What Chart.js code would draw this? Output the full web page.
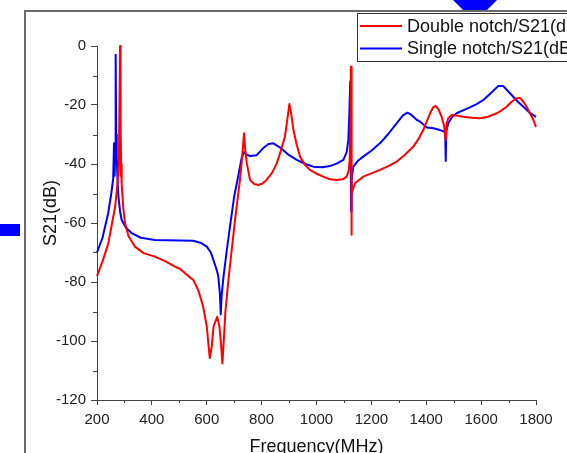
<!DOCTYPE html>
<html>
<head>
<meta charset="utf-8">
<script src="https://cdn.jsdelivr.net/npm/chart.js@4.4.0/dist/chart.umd.min.js"></script>
<style>
  html, body { margin: 0; padding: 0; background: #fff; overflow: hidden; }
  #wrap { position: relative; width: 567px; height: 453px; }
</style>
</head>
<body>
<div id="wrap"><canvas id="grafico" width="567" height="453"></canvas></div>
<script>
// Double notch filter, S21 (dB) vs frequency (MHz)
const doubleFreq = [200, 220, 241, 255, 266, 275, 280, 283, 284, 285, 286, 287, 288, 290, 296, 302, 315, 338, 370, 411, 450, 484, 502, 533, 551, 570, 587, 600, 611, 618, 625, 638, 646, 652, 657, 662, 668, 679, 690, 703, 709, 721, 727, 733, 736, 740, 746, 758, 773, 788, 803, 818, 838, 855, 870, 885, 895, 901, 908, 916, 928, 940, 958, 976, 1000, 1025, 1049, 1073, 1095, 1110, 1118, 1121, 1124, 1125, 1126, 1127, 1129, 1140, 1170, 1200, 1231, 1260, 1292, 1320, 1353, 1372, 1389, 1400, 1414, 1425, 1434, 1445, 1456, 1465, 1471, 1475, 1480, 1493, 1510, 1535, 1565, 1596, 1625, 1657, 1675, 1693, 1710, 1730, 1742, 1754, 1766, 1778, 1790, 1800];
const doubleS21 = [-78, -73, -67, -60, -54.5, -46.5, -38, -10, 0, -20, -44, -27, -40, -47, -55, -60, -64.5, -68, -70.2, -71.4, -73, -74.8, -75.5, -78, -79.3, -83, -88.4, -95, -105.8, -102, -95, -91.8, -95, -101, -107.6, -100, -90, -79.3, -70, -59, -54.5, -45.4, -39.8, -33, -29.6, -35, -39.8, -45.4, -46.8, -47.1, -46.6, -45.4, -43, -39.8, -35.5, -30.7, -24, -19.7, -23, -28.5, -33.5, -37.5, -40.3, -42, -43.3, -44.3, -45.2, -45.4, -45.2, -44.3, -42, -38.6, -25, -7, -7, -64, -50, -46.5, -44.3, -43.2, -42, -40.8, -39.2, -37, -34.1, -31.5, -28.5, -26, -22.8, -20.8, -20.3, -21.5, -24, -27, -31.9, -26, -24.5, -23.4, -23.6, -24, -24.3, -24.5, -24, -22.8, -21.8, -20.6, -19, -17.7, -17.6, -18.9, -20.6, -22.8, -25, -27.4];

// Single notch filter
const singleFreq = [200, 220, 241, 252, 259, 262, 264, 266, 268, 270, 272, 275, 278, 284, 290, 305, 326, 360, 411, 550, 580, 600, 615, 624, 635, 642, 648, 651, 654, 660, 672, 685, 700, 715, 727, 735, 745, 758, 782, 806, 825, 843, 860, 879, 900, 928, 960, 988, 1020, 1049, 1075, 1098, 1110, 1116, 1120, 1123, 1125, 1126, 1128, 1134, 1150, 1170, 1200, 1231, 1260, 1292, 1315, 1331, 1345, 1365, 1377, 1402, 1426, 1450, 1465, 1469, 1471, 1473, 1480, 1495, 1511, 1530, 1559, 1585, 1608, 1635, 1662, 1681, 1700, 1717, 1735, 1754, 1775, 1800];
const singleS21 = [-70, -65, -56.6, -50, -45, -33, -44, -38, -3, -30, -37.5, -46, -51, -56, -59, -61.5, -63.4, -65, -65.8, -66, -66.8, -68, -70, -72.5, -75.5, -78, -84, -91, -85, -79, -70, -61, -51, -44, -38, -36, -36.8, -37.3, -37, -34.6, -33.2, -33, -34, -35.3, -37, -38.6, -40, -40.9, -41.1, -40.7, -39.8, -38.6, -36, -32, -22, -12, -12, -56, -45, -41, -39, -37.5, -35.5, -33, -30, -26.2, -23.5, -22.6, -23.3, -25, -25.6, -27.6, -27.9, -28.5, -29, -29.5, -39, -29, -26.2, -24, -22.8, -22, -20.8, -19.6, -18.3, -16, -13.6, -13.6, -15.5, -17.2, -19, -20.6, -22.5, -24];

const seriesLabels = ['Double notch/S21(dB)', 'Single notch/S21(dB)'];
const seriesColors = ['#ff0000', '#0000ff'];

const xMin = 200, xMax = 1800, xStep = 200, xMinorStep = 100;
const yMin = -120, yMax = 0, yStep = 20, yMinorStep = 10;

const fuente = '"Liberation Sans", Arial, sans-serif';

const toPoints = (xs, ys) => xs.map((x, i) => ({ x: x, y: ys[i] }));

// Fondo: marco de la página, asas azules, título Y y leyenda
const decoracion = {
    id: 'decoracion',
    beforeDraw(chart) {
        const ctx = chart.ctx;
        ctx.save();
        ctx.fillStyle = '#fff';
        ctx.fillRect(0, 0, chart.width, chart.height);
        ctx.strokeStyle = '#6a6a6a';
        ctx.lineWidth = 2;
        ctx.beginPath();
        ctx.moveTo(25, chart.height);
        ctx.lineTo(25, 11);
        ctx.lineTo(chart.width, 11);
        ctx.stroke();
        ctx.fillStyle = '#0000ff';
        ctx.fillRect(0, 224, 20, 12);
        ctx.beginPath();
        ctx.moveTo(453, 0);
        ctx.lineTo(497, 0);
        ctx.lineTo(487, 10);
        ctx.lineTo(463, 10);
        ctx.closePath();
        ctx.fill();
        ctx.restore();
    },
    afterDraw(chart) {
        const ctx = chart.ctx;
        const xs = chart.scales.x, ys = chart.scales.y;
        ctx.save();
        // ticks menores
        ctx.strokeStyle = '#444';
        ctx.lineWidth = 1;
        ctx.beginPath();
        for (let v = xMin + xMinorStep; v < xMax; v += xStep) {
            const px = Math.round(xs.getPixelForValue(v)) + 0.5;
            ctx.moveTo(px, ys.bottom);
            ctx.lineTo(px, ys.bottom + 3);
        }
        for (let v = yMin + yMinorStep; v < yMax; v += yStep) {
            const py = Math.round(ys.getPixelForValue(v)) + 0.5;
            ctx.moveTo(xs.left - 4, py);
            ctx.lineTo(xs.left, py);
        }
        ctx.stroke();

        // título del eje Y (un poco por encima del centro, como en el original)
        ctx.fillStyle = '#111';
        ctx.font = '18px ' + fuente;
        ctx.textAlign = 'center';
        ctx.textBaseline = 'middle';
        ctx.translate(51, 213);
        ctx.rotate(-Math.PI / 2);
        ctx.fillText('S21(dB)', 0, 0);
        ctx.setTransform(1, 0, 0, 1, 0, 0);

        // leyenda
        ctx.fillStyle = '#fff';
        ctx.fillRect(357, 13, 230, 48);
        ctx.strokeStyle = '#333';
        ctx.strokeRect(357.5, 13.5, 230, 48);
        ctx.font = '18px ' + fuente;
        ctx.textAlign = 'left';
        chart.data.datasets.forEach((ds, i) => {
            const y = 26 + i * 22.5;
            ctx.strokeStyle = ds.borderColor;
            ctx.lineWidth = 2;
            ctx.beginPath();
            ctx.moveTo(360, y);
            ctx.lineTo(402, y);
            ctx.stroke();
            ctx.fillStyle = '#111';
            ctx.fillText(ds.label, 407, y + 1);
        });
        ctx.restore();
    }
};

new Chart(document.getElementById('grafico').getContext('2d'), {
    type: 'line',
    data: {
        datasets: [
            { label: seriesLabels[0], data: toPoints(doubleFreq, doubleS21), borderColor: seriesColors[0] },
            { label: seriesLabels[1], data: toPoints(singleFreq, singleS21), borderColor: seriesColors[1] }
        ]
    },
    options: {
        responsive: false,
        animation: false,
        clip: false,
        layout: { padding: { left: 0, top: 46, right: 31, bottom: 0 } },
        elements: {
            point: { radius: 0 },
            line: { borderWidth: 2, tension: 0, borderJoinStyle: 'round' }
        },
        plugins: { legend: { display: false }, tooltip: { enabled: false } },
        scales: {
            x: {
                type: 'linear',
                min: xMin, max: xMax,
                ticks: { stepSize: xStep, padding: 6, color: '#222', font: { family: fuente, size: 15 }, callback: (v) => String(v) },
                grid: { drawOnChartArea: false, color: '#444', tickLength: 5 },
                border: { color: '#444', width: 1 },
                title: { display: true, text: 'Frequency(MHz)', color: '#111', font: { family: fuente, size: 18, lineHeight: 1 }, padding: { top: 0, bottom: -3 } },
                afterFit: (scale) => { scale.height = 53; }
            },
            y: {
                min: yMin, max: yMax,
                ticks: { stepSize: yStep, padding: 5, color: '#222', font: { family: fuente, size: 15 } },
                grid: { drawOnChartArea: false, color: '#444', tickLength: 6 },
                border: { color: '#444', width: 1 },
                afterFit: (scale) => { scale.width = 97; }
            }
        }
    },
    plugins: [decoracion]
});
</script>
</body>
</html>
